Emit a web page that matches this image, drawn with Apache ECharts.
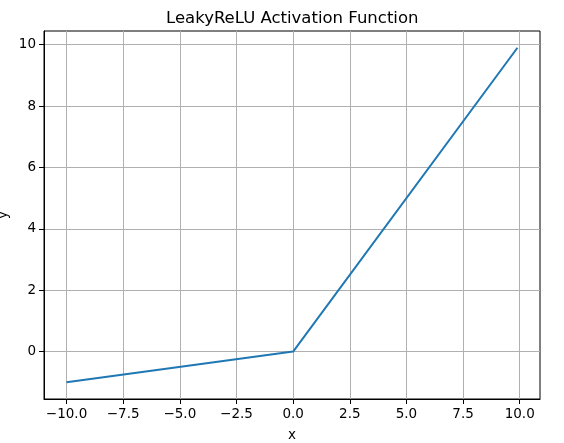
<!DOCTYPE html>
<html>
<head>
<meta charset="utf-8">
<script src="https://cdn.jsdelivr.net/npm/echarts@6/dist/echarts.min.js"></script>
<style>
  html, body { margin: 0; padding: 0; background: #fff; }
  #chart { width: 564px; height: 443px; }
</style>
</head>
<body>
<div id="chart"></div>
<script>
  // LeakyReLU data (alpha = 0.1), straight segments
  const xValues = [-10, 0, 9.9];
  const yValues = [-1, 0, 9.9];
  const xTicks = [-10, -7.5, -5, -2.5, 0, 2.5, 5, 7.5, 10];
  const yTicks = [0, 2, 4, 6, 8, 10];

  const font = "DejaVu Sans";
  const minus = v => String(v).replace("-", "\u2212");

  const myChart = echarts.init(document.getElementById("chart"));
  const option = {
    animation: false,
    title: {
      text: "LeakyReLU Activation Function",
      left: 161,
      top: 5,
      textStyle: { fontFamily: font, fontWeight: "normal", fontSize: 16.5, color: "#000" }
    },
    grid: {
      left: 44, right: 24, top: 31, bottom: 44,
      outerBoundsMode: "none",
      containLabel: false,
      show: true, borderColor: "#000", borderWidth: 1
    },
    xAxis: {
      type: "value",
      min: -10.995,
      max: 10.895,
      name: "x",
      nameLocation: "middle",
      nameGap: 29,
      nameMoveOverlap: false,
      nameTextStyle: { fontFamily: font, fontSize: 13.5, color: "#000" },
      axisLine: { show: true, onZero: false, lineStyle: { color: "#000", width: 1 } },
      axisTick: { show: true, inside: false, length: 5, customValues: xTicks, lineStyle: { color: "#000" } },
      axisLabel: {
        customValues: xTicks,
        fontFamily: font, fontSize: 13.5, color: "#000", margin: 8,
        formatter: v => minus(v.toFixed(1))
      },
      splitLine: { show: true, lineStyle: { color: "#b0b0b0", width: 1 } }
    },
    yAxis: {
      type: "value",
      min: -1.545,
      max: 10.445,
      name: "y",
      nameLocation: "middle",
      nameGap: 34,
      nameMoveOverlap: false,
      nameTextStyle: { fontFamily: font, fontSize: 13.5, color: "#000" },
      axisLine: { show: true, onZero: false, lineStyle: { color: "#000", width: 1 } },
      axisTick: { show: true, inside: false, length: 5, customValues: yTicks, lineStyle: { color: "#000" } },
      axisLabel: {
        customValues: yTicks,
        fontFamily: font, fontSize: 13.5, color: "#000", margin: 8,
        formatter: v => minus(v)
      },
      splitLine: { show: true, lineStyle: { color: "#b0b0b0", width: 1 } }
    },
    series: [{
      type: "line",
      data: xValues.map((x, i) => [x, yValues[i]]),
      showSymbol: false,
      lineStyle: { color: "#1f77b4", width: 2 },
      itemStyle: { color: "#1f77b4" }
    }]
  };
  myChart.setOption(option);
</script>
</body>
</html>
